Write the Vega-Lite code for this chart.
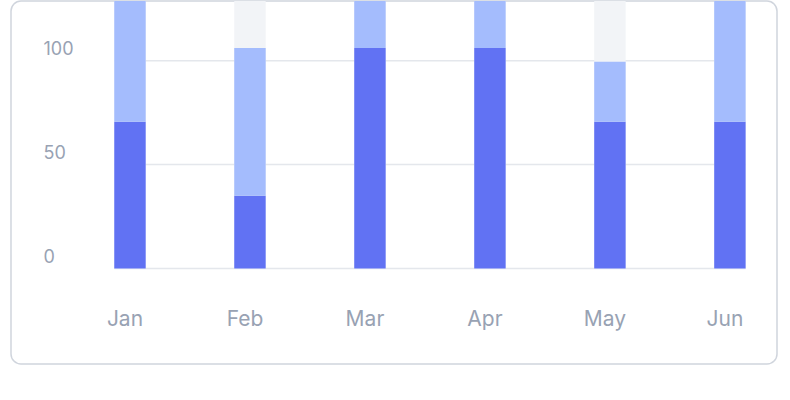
{
  "$schema": "https://vega.github.io/schema/vega-lite/v6.json",
  "autosize": {"type": "none"},
  "width": 766,
  "height": 363,
  "padding": {"left": 11, "top": 1, "right": 13, "bottom": 36},
  "background": "white",
  "datasets": {
    "grid": [{"tick": 0}, {"tick": 50}, {"tick": 100}],
    "track": [
      {"month": "Jan", "limit": 140},
      {"month": "Feb", "limit": 140},
      {"month": "Mar", "limit": 140},
      {"month": "Apr", "limit": 140},
      {"month": "May", "limit": 140},
      {"month": "Jun", "limit": 140}
    ],
    "sales": [
      {"month": "Jan", "series": "Primary", "rank": 1, "value": 70.6},
      {"month": "Jan", "series": "Secondary", "rank": 2, "value": 70},
      {"month": "Feb", "series": "Primary", "rank": 1, "value": 35},
      {"month": "Feb", "series": "Secondary", "rank": 2, "value": 71.1},
      {"month": "Mar", "series": "Primary", "rank": 1, "value": 106.1},
      {"month": "Mar", "series": "Secondary", "rank": 2, "value": 35},
      {"month": "Apr", "series": "Primary", "rank": 1, "value": 106.1},
      {"month": "Apr", "series": "Secondary", "rank": 2, "value": 35},
      {"month": "May", "series": "Primary", "rank": 1, "value": 70.6},
      {"month": "May", "series": "Secondary", "rank": 2, "value": 28.9},
      {"month": "Jun", "series": "Primary", "rank": 1, "value": 70.6},
      {"month": "Jun", "series": "Secondary", "rank": 2, "value": 70}
    ]
  },
  "layer": [
    {
      "data": {"name": "grid"},
      "mark": {"type": "rule", "color": "#E4E7EC", "strokeWidth": 1.5},
      "encoding": {
        "y": {"field": "tick", "type": "quantitative"},
        "x": {"datum": "Jan", "bandPosition": 0},
        "x2": {"datum": "Jun", "bandPosition": 1}
      }
    },
    {
      "data": {"name": "track"},
      "mark": {"type": "bar", "color": "#F2F4F7"},
      "encoding": {
        "x": {"field": "month", "type": "nominal"},
        "y": {"field": "limit", "type": "quantitative"}
      }
    },
    {
      "data": {"name": "sales"},
      "mark": {"type": "bar"},
      "encoding": {
        "x": {"field": "month", "type": "nominal"},
        "y": {"field": "value", "type": "quantitative", "stack": "zero"},
        "order": {"field": "rank", "type": "quantitative"},
        "color": {
          "field": "series",
          "type": "nominal",
          "scale": {"domain": ["Primary", "Secondary"], "range": ["#6172F3", "#A4BCFD"]},
          "legend": null
        }
      }
    }
  ],
  "encoding": {
    "x": {
      "field": "month",
      "type": "nominal",
      "sort": ["Jan", "Feb", "Mar", "Apr", "May", "Jun"],
      "title": null,
      "scale": {"paddingInner": 0.738, "paddingOuter": 0.561, "align": 0.767},
      "axis": {
        "orient": "bottom",
        "domain": false,
        "ticks": false,
        "tickSize": 0,
        "grid": false,
        "labelAngle": 0,
        "labelFont": "Inter",
        "labelFontSize": 21,
        "labelColor": "#98A2B3",
        "labelBaseline": "alphabetic",
        "labelPadding": -39,
        "labelOffset": -5
      }
    },
    "y": {
      "type": "quantitative",
      "title": null,
      "scale": {"domain": [-46, 128.7], "clamp": true, "nice": false, "zero": false},
      "axis": {
        "values": [0, 50, 100],
        "domain": false,
        "ticks": false,
        "tickSize": 0,
        "grid": false,
        "labelFont": "Inter",
        "labelFontSize": 18,
        "labelColor": "#98A2B3",
        "labelAlign": "left",
        "labelBaseline": "alphabetic",
        "labelPadding": -32,
        "labelOffset": -6
      }
    }
  },
  "config": {
    "view": {"stroke": "#D0D5DD", "strokeWidth": 1.5, "cornerRadius": 10}
  }
}
